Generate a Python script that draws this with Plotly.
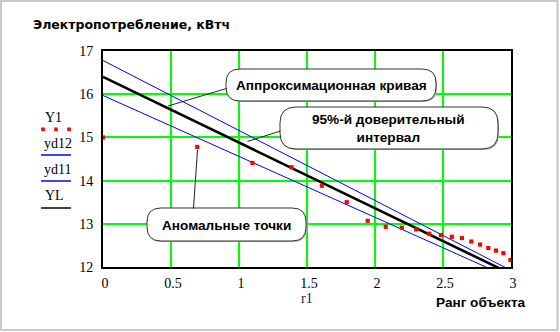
import plotly.graph_objects as go

# ---- data ---------------------------------------------------------------
# x = rank of the object on a log scale, Y1 = measured consumption
x_obs = [0.0, 0.693, 1.099, 1.386, 1.609, 1.792, 1.946, 2.079, 2.197, 2.303,
         2.398, 2.485, 2.565, 2.639, 2.708, 2.773, 2.833, 2.890, 2.944, 2.996]
y1 = [15.00, 14.78, 14.41, 14.31, 13.88, 13.50, 13.07, 12.93, 12.91, 12.87,
      12.77, 12.74, 12.70, 12.67, 12.59, 12.52, 12.44, 12.38, 12.32, 12.16]

# approximating line and the 95% band, given at the ends of the x range
x_line = [0.0, 3.0]
yl = [16.40, 11.84]      # YL
yd12 = [16.78, 11.92]    # upper bound
yd11 = [15.97, 11.74]    # lower bound

x_ticks = [0, 0.5, 1, 1.5, 2, 2.5, 3]
x_tick_text = ["0", "0.5", "1", "1.5", "2", "2.5", "3"]
y_ticks = [12, 13, 14, 15, 16, 17]

# ---- layout geometry (pixels) --------------------------------------------
W, H = 560, 332
L, R, T, B = 103, 511, 51, 267   # plot area edges


def px(x):
    return (x - L) / (R - L)


def py(y):
    return (B - y) / (B - T)


def path_from(points, close=True):
    """points: list of (cmd, [(x, y), ...]) in pixels -> paper-space SVG path"""
    s = ""
    for cmd, pts in points:
        s += cmd + " ".join(f"{px(a):.5f},{py(b):.5f}" for a, b in pts) + " "
    if close:
        s += "Z"
    return s


def rounded_box(x0, y0, x1, y1, r):
    return path_from([
        ("M", [(x0 + r, y0)]),
        ("L", [(x1 - r, y0)]),
        ("Q", [(x1, y0), (x1, y0 + r)]),
        ("L", [(x1, y1 - r)]),
        ("Q", [(x1, y1), (x1 - r, y1)]),
        ("L", [(x0 + r, y1)]),
        ("Q", [(x0, y1), (x0, y1 - r)]),
        ("L", [(x0, y0 + r)]),
        ("Q", [(x0, y0), (x0 + r, y0)]),
    ])


shapes = []


def callout(box, r, base_a, base_b, tip, inward):
    x0, y0, x1, y1 = box
    # soft shadow
    shapes.append(dict(type="path", xref="paper", yref="paper",
                       path=rounded_box(x0 + 1, y0 + 1, x1 + 1, y1 + 1, r),
                       fillcolor="#b0b0b0", line=dict(width=0), layer="above"))
    shapes.append(dict(type="path", xref="paper", yref="paper",
                       path=rounded_box(x0, y0, x1, y1, r),
                       fillcolor="white", line=dict(color="#333333", width=1),
                       layer="above"))
    # white patch hiding the box edge where the pointer joins
    ia = (base_a[0] + inward[0], base_a[1] + inward[1])
    ib = (base_b[0] + inward[0], base_b[1] + inward[1])
    shapes.append(dict(type="path", xref="paper", yref="paper",
                       path=path_from([("M", [ia]), ("L", [base_a, tip, base_b, ib])]),
                       fillcolor="white", line=dict(width=0), layer="above"))
    shapes.append(dict(type="path", xref="paper", yref="paper",
                       path=path_from([("M", [base_a]), ("L", [tip, base_b])], close=False),
                       fillcolor="rgba(0,0,0,0)",
                       line=dict(color="#222222", width=1), layer="above"))


# outer frame
shapes.append(dict(type="rect", xref="paper", yref="paper",
                   x0=px(1), x1=px(557.5), y0=py(1), y1=py(330),
                   line=dict(color="#c8c8c8", width=2), fillcolor="rgba(0,0,0,0)",
                   layer="below"))

callout((226, 69, 436, 101), 14, (226.5, 88.5), (226.5, 93.5), (168, 106), (3, 0))
callout((280, 107, 498, 149), 16, (280.5, 131), (280.5, 136.5), (247.5, 141.5), (3, 0))
callout((147, 208, 306, 241), 14, (193.5, 208.5), (197.5, 208.5), (197.5, 150), (0, 3))

# legend glyphs
for xx in (43, 56, 69):
    shapes.append(dict(type="rect", xref="paper", yref="paper",
                       x0=px(xx - 1.8), x1=px(xx + 1.8), y0=py(129.3 + 1.8), y1=py(129.3 - 1.8),
                       fillcolor="#ff0000", line=dict(width=0)))
shapes.append(dict(type="line", xref="paper", yref="paper",
                   x0=px(41), x1=px(71), y0=py(155), y1=py(155),
                   line=dict(color="#0000ff", width=1.5)))
shapes.append(dict(type="line", xref="paper", yref="paper",
                   x0=px(41), x1=px(71), y0=py(181), y1=py(181),
                   line=dict(color="#0000ff", width=1.5)))
shapes.append(dict(type="line", xref="paper", yref="paper",
                   x0=px(41), x1=px(71), y0=py(208), y1=py(208),
                   line=dict(color="#000000", width=1.5)))

SANS = "Liberation Sans, Arial, sans-serif"
WIDE_SANS = "DejaVu Sans, Verdana, sans-serif"
SERIF = "Liberation Serif, Times New Roman, serif"
BOLD_SIZE = 13.6


def label(text, x, y, size, family, bold=False, xanchor="center", color="#000000"):
    if bold:
        text = f"<b>{text}</b>"
    return dict(text=text, xref="paper", yref="paper", x=px(x), y=py(y),
                xanchor=xanchor, yanchor="middle", showarrow=False,
                font=dict(family=family, size=size, color=color))


annotations = [
    label("Электропотребление, кВтч", 31, 25, 12.5, WIDE_SANS, bold=True, xanchor="left"),
    label("Аппроксимационная кривая", 331, 85, BOLD_SIZE, SANS, bold=True),
    label("95%-й доверительный<br>интервал", 388, 128, BOLD_SIZE, SANS, bold=True),
    label("Аномальные точки", 226, 225, BOLD_SIZE, SANS, bold=True),
    label("Ранг объекта", 481, 302, BOLD_SIZE, SANS, bold=True),
    label("r1", 307, 298, 14, SERIF, color="#1a1a50"),
    label("Y1", 43, 117, 14, SERIF, xanchor="left"),
    label("yd12", 42, 143, 14, SERIF, xanchor="left"),
    label("yd11", 42, 169, 14, SERIF, xanchor="left"),
    label("YL", 43, 195, 14, SERIF, xanchor="left"),
]

fig = go.Figure()
fig.add_trace(go.Scatter(x=x_line, y=yd12, mode="lines",
                         line=dict(color="#0000ff", width=1), name="yd12"))
fig.add_trace(go.Scatter(x=x_line, y=yd11, mode="lines",
                         line=dict(color="#0000ff", width=1), name="yd11"))
fig.add_trace(go.Scatter(x=x_line, y=yl, mode="lines",
                         line=dict(color="#000000", width=2.6), name="YL"))
fig.add_trace(go.Scatter(x=x_obs, y=y1, mode="markers", cliponaxis=False,
                         marker=dict(symbol="square", size=4.2, color="#ff0000",
                                     line=dict(width=0)), name="Y1"))

axis_common = dict(showgrid=True, gridcolor="#00ff00", gridwidth=1.5,
                   zeroline=False, showline=True, linecolor="#000000",
                   linewidth=2, mirror=True, ticks="",
                   tickfont=dict(family=SERIF, size=14, color="#000000"))

fig.update_layout(
    width=W, height=H,
    margin=dict(l=L, r=W - R, t=T, b=H - B, pad=0),
    paper_bgcolor="white", plot_bgcolor="white",
    showlegend=False,
    xaxis=dict(range=[0, 3], tickvals=x_ticks, ticktext=x_tick_text,
               ticklabelstandoff=2, ticklabelshift=2, **axis_common),
    yaxis=dict(range=[12, 17], tickvals=y_ticks, ticklabelstandoff=5,
               **axis_common),
    shapes=shapes,
    annotations=annotations,
)

fig.write_html("out.html")
